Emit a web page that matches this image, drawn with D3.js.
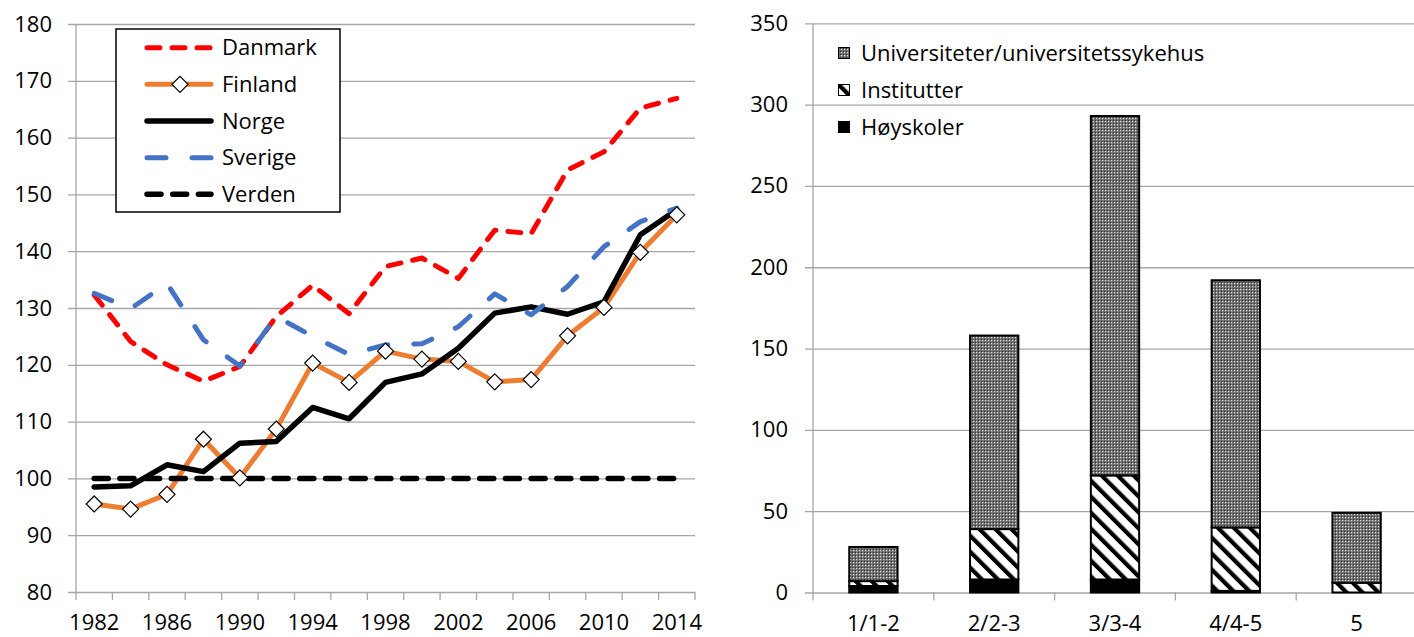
<!DOCTYPE html>
<html>
<head>
<meta charset="utf-8">
<script src="https://cdn.jsdelivr.net/npm/d3@7"></script>
<style>
  html, body { margin: 0; padding: 0; background: #fff; }
  svg { display: block; font-family: "Open Sans", "DejaVu Sans", sans-serif; }
</style>
</head>
<body>
<svg id="chart" width="1414" height="637"></svg>
<script>
// ---------- Left chart data ----------
const years = [1982,1984,1986,1988,1990,1992,1994,1996,1998,2000,2002,2004,2006,2008,2010,2012,2014];
const danmark = [132.3,124.1,120.0,117.1,119.7,128.5,134.0,129.0,137.3,138.8,135.2,143.7,143.1,154.3,157.5,165.2,166.9];
const finland = [95.5,94.6,97.2,106.9,100.1,108.7,120.3,116.9,122.4,121.0,120.6,117.0,117.4,125.1,130.1,139.8,146.4];
const norge   = [98.5,98.7,102.4,101.2,106.2,106.5,112.5,110.5,116.9,118.4,122.9,129.1,130.2,128.9,131.1,142.9,147.3];
const sverige = [132.6,129.9,134.3,124.4,119.8,128.5,125.0,121.8,123.5,123.7,126.7,132.5,128.8,133.8,140.8,145.2,147.6];
const verden  = [100,100,100,100,100,100,100,100,100,100,100,100,100,100,100,100,100];
const leftTicks = [80,90,100,110,120,130,140,150,160,170,180];

// ---------- Right chart data ----------
const categories = ["1/1-2","2/2-3","3/3-4","4/4-5","5"];
const hoyskoler = [4, 8, 8, 1, 0];
const institutter = [3, 31, 64, 39, 6];
const universiteter = [21, 119, 221, 152, 43];
const rightTicks = [0,50,100,150,200,250,300,350];

const svg = d3.select("#chart");
const gridColor = "#a6a6a6";
const fontSize = 22;
const labelY = 38;

// ---------- patterns ----------
const defs = svg.append("defs");
const pU = defs.append("pattern").attr("id","patU").attr("patternUnits","userSpaceOnUse")
  .attr("width",3).attr("height",3);
pU.append("rect").attr("width",3).attr("height",3).attr("fill","#6a6a6a");
pU.append("rect").attr("x",1).attr("y",1).attr("width",1.2).attr("height",1.2).attr("fill","#e0e0e0");
pU.append("rect").attr("x",0).attr("y",0).attr("width",1).attr("height",1).attr("fill","#333");
const pI = defs.append("pattern").attr("id","patI").attr("patternUnits","userSpaceOnUse")
  .attr("width",11.3).attr("height",11.3).attr("patternTransform","rotate(-45)");
pI.append("rect").attr("width",11.3).attr("height",11.3).attr("fill","#fff");
pI.append("rect").attr("width",4.2).attr("height",11.3).attr("fill","#000");

// =============== LEFT CHART ===============
const L = {x0: 76, x1: 695, y0: 592, y1: 24};
const xL = d3.scaleBand().domain(years).range([L.x0, L.x1]);
const yL = d3.scaleLinear().domain([80,180]).range([L.y0, L.y1]);
const cx = d => xL(d) + xL.bandwidth()/2;

const gL = svg.append("g");
const yAxisL = d3.axisLeft(yL).tickValues(leftTicks).tickSize(-(L.x1 - L.x0 + 8)).tickPadding(16);
gL.append("g").attr("transform",`translate(${L.x0-8},0)`).call(yAxisL)
  .call(g => g.select(".domain").remove())
  .call(g => g.selectAll(".tick line").attr("stroke",gridColor).attr("stroke-width",1.3))
  .call(g => g.selectAll(".tick text").attr("font-size",fontSize).attr("fill","#000")
        .attr("font-family","'Open Sans', sans-serif"));
gL.append("line").attr("x1",L.x0).attr("x2",L.x0).attr("y1",L.y1).attr("y2",L.y0)
  .attr("stroke",gridColor).attr("stroke-width",1.3);
gL.append("g").selectAll("line").data(d3.range(years.length+1)).join("line")
  .attr("x1", i => L.x0 + i*xL.step()).attr("x2", i => L.x0 + i*xL.step())
  .attr("y1", L.y0).attr("y2", L.y0+8).attr("stroke",gridColor).attr("stroke-width",1.3);
const xAxisL = d3.axisBottom(xL).tickValues(years.filter((d,i)=>i%2===0)).tickSize(0).tickPadding(0);
gL.append("g").attr("transform",`translate(0,${L.y0})`).call(xAxisL)
  .call(g => g.select(".domain").remove())
  .call(g => g.selectAll(".tick text").attr("font-size",fontSize).attr("fill","#000")
        .attr("dy",null).attr("y",labelY).attr("font-family","'Open Sans', sans-serif"));

const line = d3.line().x((d,i)=>cx(years[i])).y(d=>yL(d));
const series = [
  {name:"Danmark", data:danmark, color:"#ff0000", width:5, dash:"13,12"},
  {name:"Finland", data:finland, color:"#ed7d31", width:5, dash:null, marker:true},
  {name:"Norge",   data:norge,   color:"#000000", width:5.5, dash:null},
  {name:"Sverige", data:sverige, color:"#4472c4", width:5, dash:"19,26"},
  {name:"Verden",  data:verden,  color:"#000000", width:5.5, dash:"14,11.7"}
];
series.forEach(s => {
  gL.append("path").datum(s.data).attr("d",line).attr("fill","none")
    .attr("stroke",s.color).attr("stroke-width",s.width)
    .attr("stroke-linejoin","round").attr("stroke-linecap","round")
    .attr("stroke-dasharray",s.dash);
});
function diamondPath(r){ return `M0,${-r}L${r},0L0,${r}L${-r},0Z`; }
gL.append("g").selectAll("path").data(finland).join("path")
  .attr("d", diamondPath(8))
  .attr("transform",(d,i)=>`translate(${cx(years[i])},${yL(d)})`)
  .attr("fill","#fff").attr("stroke","#000").attr("stroke-width",1.2);

// legend
const leg = gL.append("g");
leg.append("rect").attr("x",116).attr("y",29).attr("width",224).attr("height",183)
  .attr("fill","#fff").attr("stroke","#000").attr("stroke-width",1.5);
const legY = d3.scalePoint().domain(series.map(s=>s.name)).range([47.7,194.3]);
series.forEach(s => {
  const yy = legY(s.name);
  leg.append("line").attr("x1",147).attr("x2",211).attr("y1",yy).attr("y2",yy)
    .attr("stroke",s.color).attr("stroke-width",s.width).attr("stroke-linecap","round")
    .attr("stroke-dasharray",s.dash);
  if (s.marker) {
    leg.append("path").attr("d",diamondPath(8)).attr("transform",`translate(180,${yy})`)
      .attr("fill","#fff").attr("stroke","#000").attr("stroke-width",1.2);
  }
  leg.append("text").attr("x",222).attr("y",yy).attr("dy","0.35em")
    .attr("font-size",fontSize).attr("fill","#000").text(s.name);
});

// =============== RIGHT CHART ===============
const R = {x0: 813, x1: 1417, y0: 592.5, y1: 23.3};
const xR = d3.scaleBand().domain(categories).range([R.x0, R.x1]);
const yR = d3.scaleLinear().domain([0,350]).range([R.y0, R.y1]);
const gR = svg.append("g");
const yAxisR = d3.axisLeft(yR).tickValues(rightTicks).tickSize(-(R.x1 - R.x0 + 8)).tickPadding(17);
gR.append("g").attr("transform",`translate(${R.x0-8},0)`).call(yAxisR)
  .call(g => g.select(".domain").remove())
  .call(g => g.selectAll(".tick line").attr("stroke",gridColor).attr("stroke-width",1.3))
  .call(g => g.selectAll(".tick text").attr("font-size",fontSize).attr("fill","#000")
        .attr("font-family","'Open Sans', sans-serif"));
gR.append("line").attr("x1",R.x0).attr("x2",R.x0).attr("y1",R.y1).attr("y2",R.y0)
  .attr("stroke",gridColor).attr("stroke-width",1.3);
gR.append("g").selectAll("line").data(d3.range(categories.length+1)).join("line")
  .attr("x1", i => R.x0 + i*xR.step()).attr("x2", i => R.x0 + i*xR.step())
  .attr("y1", R.y0).attr("y2", R.y0+8).attr("stroke",gridColor).attr("stroke-width",1.3);
const xAxisR = d3.axisBottom(xR).tickSize(0).tickPadding(0);
gR.append("g").attr("transform",`translate(0,${R.y0})`).call(xAxisR)
  .call(g => g.select(".domain").remove())
  .call(g => g.selectAll(".tick text").attr("font-size",fontSize).attr("fill","#000")
        .attr("dy",null).attr("y",labelY).attr("font-family","'Open Sans', sans-serif"));

const table = categories.map((c,i)=>({cat:c, H:hoyskoler[i], I:institutter[i], U:universiteter[i]}));
const stack = d3.stack().keys(["H","I","U"])(table);
const fills = {H:"#000", I:"url(#patI)", U:"url(#patU)"};
const bw = xR.bandwidth()*0.4;
stack.forEach(layer => {
  gR.append("g").selectAll("rect").data(layer.filter(d=>d[1]-d[0]>0)).join("rect")
    .attr("x", d => xR(d.data.cat) + (xR.bandwidth()-bw)/2)
    .attr("width", bw)
    .attr("y", d => yR(d[1]))
    .attr("height", d => yR(d[0]) - yR(d[1]))
    .attr("fill", fills[layer.key])
    .attr("stroke","#000").attr("stroke-width",2);
});

// right legend
const legR = [
  {name:"Universiteter/universitetssykehus", key:"U"},
  {name:"Institutter", key:"I"},
  {name:"Høyskoler", key:"H"}
];
const legRY = d3.scalePoint().domain(legR.map(d=>d.name)).range([53,127]);
legR.forEach(d => {
  const yy = legRY(d.name);
  gR.append("rect").attr("x",838.5).attr("y",yy-5.5).attr("width",11).attr("height",11)
    .attr("fill",fills[d.key]).attr("stroke","#000").attr("stroke-width",1);
  gR.append("text").attr("x",861).attr("y",yy).attr("dy","0.35em")
    .attr("font-size",fontSize).attr("fill","#000").text(d.name);
});
</script>
</body>
</html>
